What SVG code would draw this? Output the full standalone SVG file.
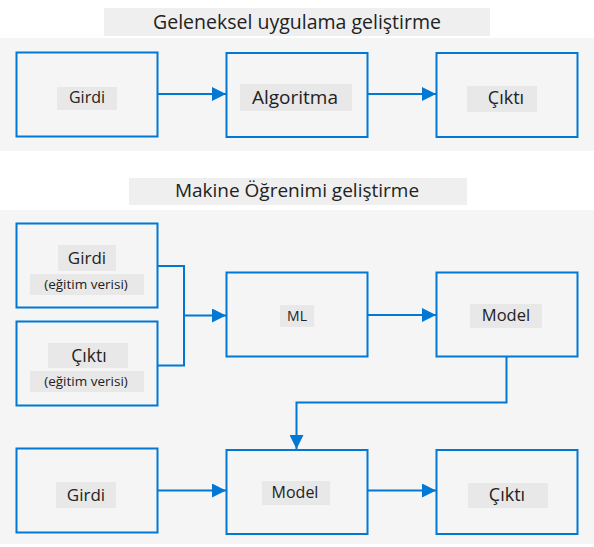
<svg xmlns="http://www.w3.org/2000/svg" width="594" height="547" viewBox="0 0 594 547">
<style>
.panel{fill:#f5f5f5}
.tbg{fill:#efefef}
.box{fill:none;stroke:#0078d4;stroke-width:2}
.lbg{fill:#e8e8e8}
.conn{fill:none;stroke:#0078d4;stroke-width:2}
text{font-family:"Open Sans","Noto Sans","DejaVu Sans",sans-serif;fill:#222;text-anchor:middle}
.t{font-size:19.5px}
.s{font-size:13.5px}
</style>
<defs>
<marker id="ah" viewBox="0 0 14 14" refX="14" refY="7" markerWidth="14" markerHeight="14" markerUnits="userSpaceOnUse" orient="auto">
<path d="M0,0 L14,7 L0,14 Z" fill="#0078d4"/>
</marker>
</defs>
<rect width="594" height="547" fill="#ffffff"/>
<rect class="panel" x="0" y="38" width="594" height="113"/>
<rect class="panel" x="0" y="210" width="594" height="334"/>
<g id="title1"><rect class="tbg" x="104" y="8" width="386" height="28"/><text class="t" x="297" y="29">Geleneksel uygulama geliştirme</text></g>
<g id="title2"><rect class="tbg" x="129" y="178" width="338" height="27"/><text style="font-size:19px" x="297" y="197">Makine Öğrenimi geliştirme</text></g>
<g id="n-girdi1"><rect class="box" x="16.5" y="52.5" width="141" height="84"/><rect class="lbg" x="57" y="87" width="60" height="23"/><text style="font-size:16px" x="87" y="103">Girdi</text></g>
<g id="n-algoritma"><rect class="box" x="226.5" y="53" width="141" height="84"/><rect class="lbg" x="240" y="84" width="112" height="27"/><text style="font-size:19px" x="295" y="104">Algoritma</text></g>
<g id="n-cikti1"><rect class="box" x="436.5" y="53" width="141" height="84"/><rect class="lbg" x="467" y="86" width="70" height="26"/><text style="font-size:18px" x="506" y="104">Çıktı</text></g>
<g id="n-girdi2"><rect class="box" x="16.5" y="223.5" width="141" height="84"/><rect class="lbg" x="58" y="245" width="58" height="26"/><text style="font-size:17px" x="87" y="264">Girdi</text><rect class="lbg" x="30" y="274" width="114" height="21"/><text class="s" x="86" y="289">(eğitim verisi)</text></g>
<g id="n-cikti2"><rect class="box" x="16.5" y="321.5" width="141" height="84"/><rect class="lbg" x="48" y="343" width="80" height="25"/><text style="font-size:17.5px" x="89" y="362">Çıktı</text><rect class="lbg" x="30" y="371" width="114" height="21"/><text class="s" x="86" y="386">(eğitim verisi)</text></g>
<g id="n-ml"><rect class="box" x="226.5" y="272.5" width="141" height="84"/><rect class="lbg" x="280" y="305" width="34" height="22"/><text style="font-size:14px" x="297" y="321">ML</text></g>
<g id="n-model1"><rect class="box" x="436.5" y="272.5" width="141" height="84"/><rect class="lbg" x="470" y="304" width="72" height="24"/><text style="font-size:16.5px" x="506" y="321">Model</text></g>
<g id="n-girdi3"><rect class="box" x="16.5" y="448.5" width="141" height="84"/><rect class="lbg" x="56" y="482" width="60" height="26"/><text style="font-size:17px" x="86" y="501">Girdi</text></g>
<g id="n-model2"><rect class="box" x="226.5" y="450" width="141" height="84"/><rect class="lbg" x="262" y="481" width="68" height="24"/><text style="font-size:16px" x="295" y="498">Model</text></g>
<g id="n-cikti3"><rect class="box" x="436.5" y="450" width="141" height="84"/><rect class="lbg" x="468" y="483" width="80" height="25"/><text style="font-size:18px" x="507" y="501">Çıktı</text></g>
<g id="connectors">
<path class="conn" d="M157.5,94 L226,94" marker-end="url(#ah)"/>
<path class="conn" d="M367.5,94 L436,94" marker-end="url(#ah)"/>
<path class="conn" d="M157.5,266 L184,266 L184,365.5 L157.5,365.5"/>
<path class="conn" d="M184,315.5 L226,315.5" marker-end="url(#ah)"/>
<path class="conn" d="M367.5,315 L436,315" marker-end="url(#ah)"/>
<path class="conn" d="M506.5,356.5 L506.5,402.5 L296.5,402.5 L296.5,449" marker-end="url(#ah)"/>
<path class="conn" d="M157.5,490.5 L226,490.5" marker-end="url(#ah)"/>
<path class="conn" d="M367.5,490.5 L436,490.5" marker-end="url(#ah)"/>
</g>
</svg>
